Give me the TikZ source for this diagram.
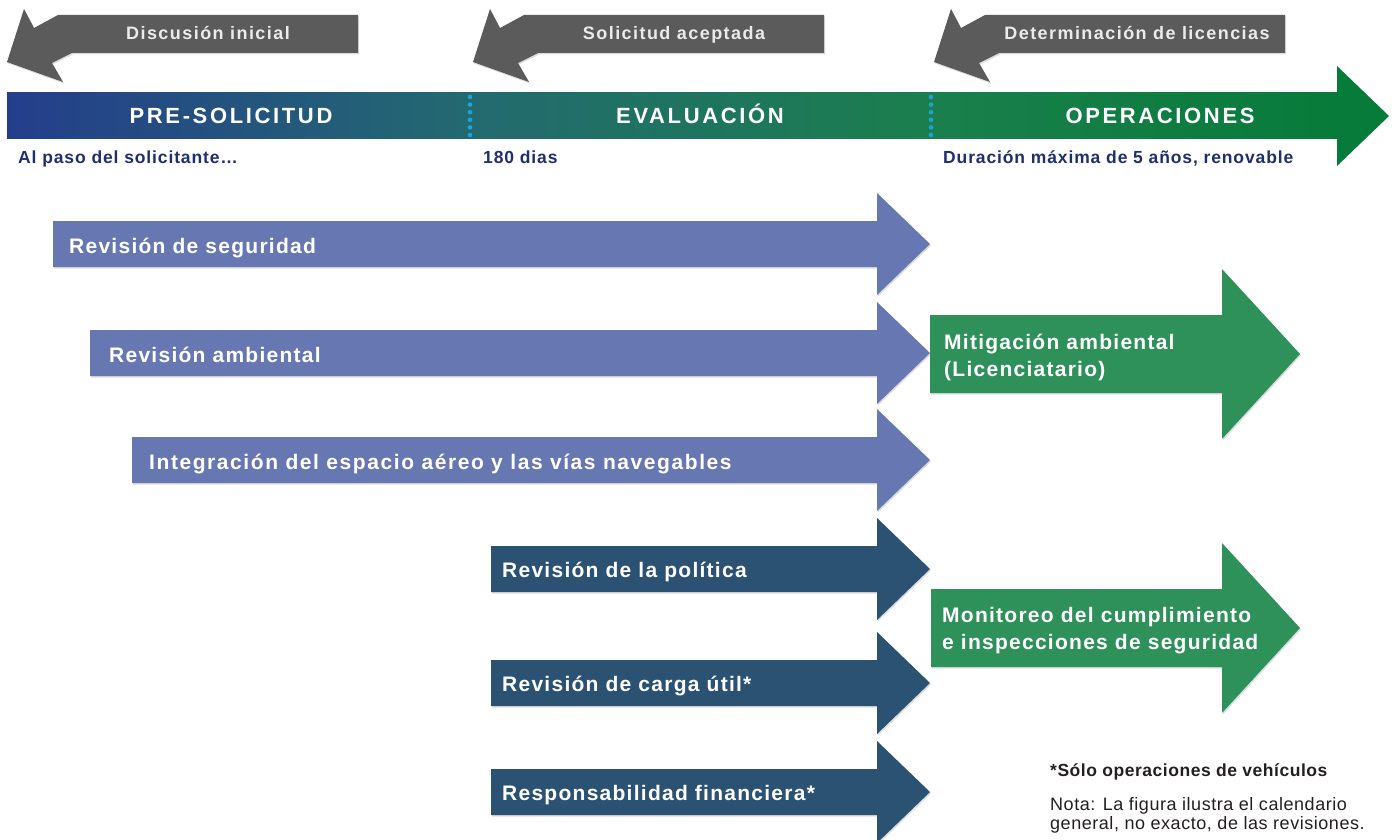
\documentclass[tikz,border=0pt]{standalone}
\usepackage{fontspec}
\setmainfont{Liberation Sans}
\newfontfamily\lblfont{Liberation Sans}[LetterSpace=6]
\newfontfamily\lblwfont{Liberation Sans}[LetterSpace=7.5]
\newfontfamily\grfont{Liberation Sans}[LetterSpace=8]
\newfontfamily\phfont{Liberation Sans}[LetterSpace=12]
\newfontfamily\subfont{Liberation Sans}[LetterSpace=5]
\newfontfamily\notefont{Liberation Sans}[LetterSpace=3]
\usetikzlibrary{shadows}
\definecolor{cpurple}{HTML}{6777B1}
\definecolor{cdblue}{HTML}{2B5173}
\definecolor{cgreen}{HTML}{2E9159}
\definecolor{cgrey}{HTML}{5B5B5B}
\definecolor{cnavy}{HTML}{1E2F6E}
\definecolor{cnote}{HTML}{231F20}
\definecolor{cdot}{HTML}{1BA3DB}
\definecolor{gA}{HTML}{243E8C}
\definecolor{gB}{HTML}{236A70}
\definecolor{gC}{HTML}{1A7F4D}
\definecolor{gD}{HTML}{077B3A}
\tikzset{
  shd/.style={drop shadow={shadow xshift=1pt, shadow yshift=-1.5pt, opacity=0.22, fill=black!60}},
  purplearrow/.style={fill=cpurple, shd},
  dbluearrow/.style={fill=cdblue, shd},
  greenarrow/.style={fill=cgreen, shd},
  greyarrow/.style={fill=cgrey, shd},
  lbl/.style={inner sep=0pt, anchor=base west, text=white, font=\lblfont\bfseries\fontsize{21}{27}\selectfont},
  greenlbl/.style={lbl, align=left},
  grlbl/.style={inner sep=0pt, anchor=base, text=black!8, font=\grfont\bfseries\fontsize{18}{22}\selectfont},
  phlbl/.style={inner sep=0pt, anchor=base, text=white, font=\phfont\bfseries\fontsize{22}{26}\selectfont},
  sublbl/.style={inner sep=0pt, anchor=base west, text=cnavy, font=\subfont\bfseries\fontsize{17.5}{20}\selectfont},
  notelbl/.style={inner sep=0pt, anchor=base west, text=cnote, align=left, font=\notefont\fontsize{18}{19}\selectfont},
  dotsep/.style={cdot, line width=4.6pt, line cap=round, dash pattern=on 0pt off 7.6pt}
}
% right arrow: style, x0, yc, half body, x base, half head, x tip
\newcommand\rarr[7]{%
  \fill[#1] (#2,#3-#4) -- (#5,#3-#4) -- (#5,#3-#6) -- (#7,#3) -- (#5,#3+#6) -- (#5,#3+#4) -- (#2,#3+#4) -- cycle;}
% grey left arrow with horizontal offset
\newcommand\larr[1]{%
  \fill[greyarrow] (#1+7,62) -- (#1+24,9) -- (#1+34,28) -- (#1+58,15) -- (#1+358,15) -- (#1+358,53) -- (#1+72,53) -- (#1+52,63) -- (#1+63,82) -- cycle;}
\begin{document}
\begin{tikzpicture}[x=1pt,y=-1pt]
\useasboundingbox (0,0) rectangle (1395,840);
\clip (0,0) rectangle (1395,840);

% grey milestone arrows
\larr{0}
\larr{466}
\larr{927}
\node[grlbl] (m1) at (208,40) {Discusión inicial};
\node[grlbl] (m2) at (674,40) {Solicitud aceptada};
\node[grlbl] (m3) at (1137,40) {Determinación de licencias};

% phase bar
\shade[left color=gA, right color=gB] (7,93) rectangle (470.5,139);
\shade[left color=gB, right color=gC] (470,93) rectangle (931.5,139);
\shade[left color=gC, right color=gD] (931,93) rectangle (1337.5,139);
\fill[gD] (1337,66) -- (1389,116) -- (1337,166) -- cycle;
\draw[dotsep] (470,97) -- (470,137);
\draw[dotsep] (931,97) -- (931,137);
\node[phlbl] (p1) at (231,124) {PRE-SOLICITUD};
\node[phlbl] (p2) at (700,124) {EVALUACIÓN};
\node[phlbl] (p3) at (1160,124) {OPERACIONES};
\node[sublbl] (s1) at (18,164) {Al paso del solicitante…};
\node[sublbl] (s2) at (483,164) {180 dias};
\node[sublbl] (s3) at (943,164) {Duración máxima de 5 años, renovable};

% review arrows
\rarr{purplearrow}{53}{244}{23}{877}{51}{930}
\rarr{purplearrow}{90}{353}{23}{877}{51}{930}
\rarr{purplearrow}{132}{460}{23}{877}{51}{930}
\rarr{dbluearrow}{491}{569}{23}{877}{51}{930}
\rarr{dbluearrow}{491}{683}{23}{877}{51}{930}
\rarr{dbluearrow}{491}{792}{23}{877}{51}{930}
\rarr{greenarrow}{930}{354}{39}{1222}{85}{1300}
\rarr{greenarrow}{931}{628}{39}{1222}{85}{1300}

\node[lbl] (r1) at (69,253) {Revisión de seguridad};
\node[lbl] (r2) at (109,362) {Revisión ambiental};
\node[lbl, font=\lblwfont\bfseries\fontsize{21}{27}\selectfont] (r3) at (149,469) {Integración del espacio aéreo y las vías navegables};
\node[lbl] (r4) at (502,577) {Revisión de la política};
\node[lbl] (r5) at (502,691) {Revisión de carga útil*};
\node[lbl] (r6) at (502,800) {Responsabilidad financiera*};
\node[greenlbl] (g1) at (944,376) {Mitigación ambiental\\(Licenciatario)};
\node[greenlbl] (g2) at (942,649) {Monitoreo del cumplimiento\\e inspecciones de seguridad};

% notes
\node[notelbl, font=\notefont\bfseries\fontsize{17.5}{17}\selectfont] (n1) at (1050,776) {*Sólo operaciones de vehículos};
\node[notelbl] (n2) at (1050,829) {Nota: La figura ilustra el calendario\\general, no exacto, de las revisiones.};
\end{tikzpicture}
\end{document}
